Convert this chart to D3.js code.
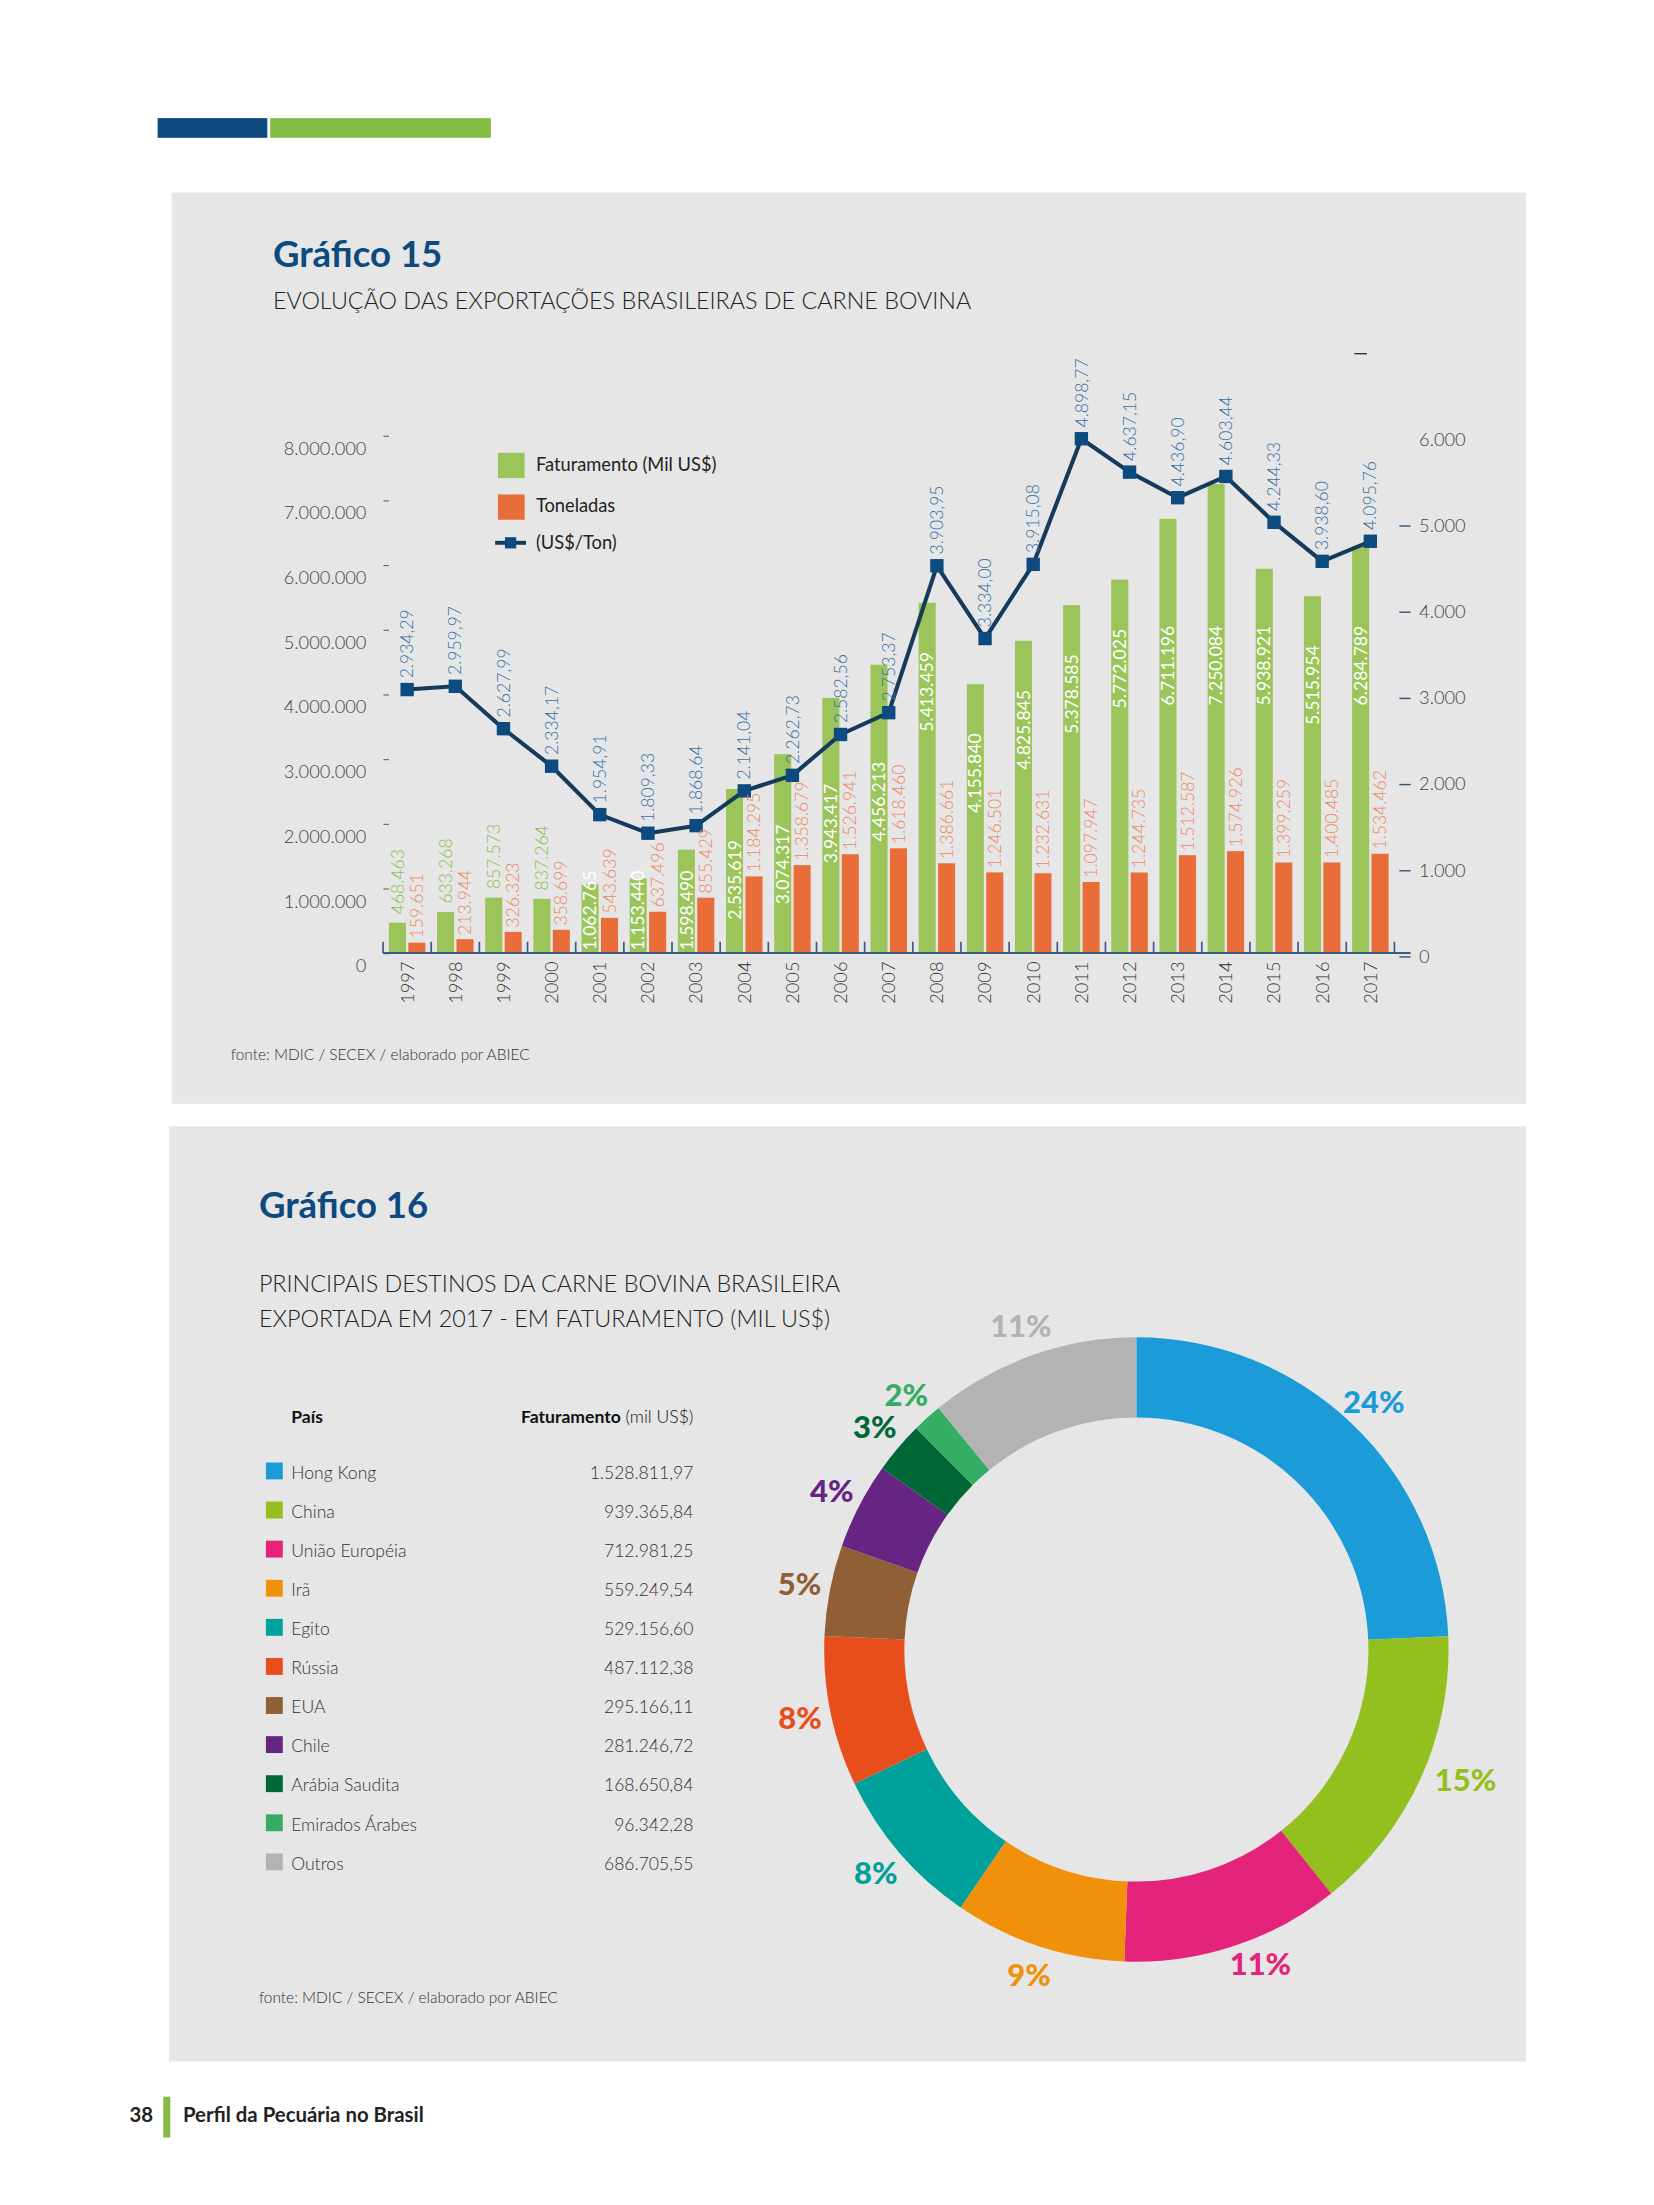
<!DOCTYPE html>
<html>
<head>
<meta charset="utf-8">
<script src="https://cdn.jsdelivr.net/npm/d3@7"></script>
<style>
  html, body { margin: 0; padding: 0; background: #fff; }
  svg { display: block; font-family: Lato, "Noto Sans", sans-serif; }
</style>
</head>
<body>
<svg id="page" width="1654" height="2205" viewBox="0 0 1176 1568"></svg>
<script>
// ---- Gráfico 15 data
const years = ['1997', '1998', '1999', '2000', '2001', '2002', '2003', '2004', '2005', '2006', '2007',
  '2008', '2009', '2010', '2011', '2012', '2013', '2014', '2015', '2016', '2017'];
const faturamento = [468463, 633268, 857573, 837264, 1062765, 1153440, 1598490, 2535619, 3074317, 3943417, 4456213,
  5413459, 4155840, 4825845, 5378585, 5772025, 6711196, 7250084, 5938921, 5515954, 6284789];
const toneladas = [159651, 213944, 326323, 358699, 543639, 637496, 855429, 1184295, 1358679, 1526941, 1618460,
  1386661, 1246501, 1232631, 1097947, 1244735, 1512587, 1574926, 1399259, 1400485, 1534462];
const precoTon = [2934.29, 2959.97, 2627.99, 2334.17, 1954.91, 1809.33, 1868.64, 2141.04, 2262.73, 2582.56, 2753.37,
  3903.95, 3334.00, 3915.08, 4898.77, 4637.15, 4436.90, 4603.44, 4244.33, 3938.60, 4095.76];
const leftTicks = [0, 1000000, 2000000, 3000000, 4000000, 5000000, 6000000, 7000000, 8000000];
const rightTicks = [0, 1000, 2000, 3000, 4000, 5000, 6000, 7000];
const legendItems = ['Faturamento (Mil US$)', 'Toneladas', '(US$/Ton)'];

// ---- Gráfico 16 data
const paises = ['Hong Kong', 'China', 'União Européia', 'Irã', 'Egito', 'Rússia', 'EUA', 'Chile',
  'Arábia Saudita', 'Emirados Árabes', 'Outros'];
const faturamentoPais = [1528811.97, 939365.84, 712981.25, 559249.54, 529156.60, 487112.38, 295166.11,
  281246.72, 168650.84, 96342.28, 686705.55];
const coresPais = ['#1b9cd8', '#93c01f', '#e4237a', '#f0900b', '#00a19a', '#e84e1c', '#915f36',
  '#662582', '#006837', '#35ad64', '#b3b3b3'];

const br = d3.formatLocale({decimal: ',', thousands: '.', grouping: [3], currency: ['R$', '']});
const fmtInt = br.format(',d');
const fmtDec = br.format(',.2f');

const BLUE = '#0c4a80';
const GREEN = '#9bc55b';
const ORANGE = '#e86d38';

const svg = d3.select('#page');

// page furniture
svg.append('rect').attr('x', 112).attr('y', 84).attr('width', 78).attr('height', 14).attr('fill', '#0b4a7e');
svg.append('rect').attr('x', 192).attr('y', 84).attr('width', 157).attr('height', 14).attr('fill', '#83bd48');
svg.append('rect').attr('x', 122).attr('y', 137).attr('width', 963).attr('height', 648).attr('fill', '#e6e6e6');
svg.append('rect').attr('x', 120).attr('y', 801).attr('width', 965).attr('height', 665).attr('fill', '#e6e6e6');

svg.append('text').attr('x', 92).attr('y', 1509).attr('font-size', 14.5).attr('font-weight', 700)
    .attr('fill', '#222').text('38');
svg.append('rect').attr('x', 116).attr('y', 1491).attr('width', 5).attr('height', 29).attr('fill', '#83bd48');
svg.append('text').attr('x', 130).attr('y', 1509).attr('font-size', 14.5).attr('font-weight', 700)
    .attr('fill', '#222').text('Perfil da Pecuária no Brasil');

// =================== Gráfico 15 ===================
svg.append('text').attr('x', 194).attr('y', 190).attr('font-size', 26).attr('font-weight', 700)
    .attr('fill', BLUE).text('Gráfico 15');
svg.append('text').attr('x', 194).attr('y', 220).attr('font-size', 16.6).attr('font-weight', 300)
    .attr('fill', '#222').text('EVOLUÇÃO DAS EXPORTAÇÕES BRASILEIRAS DE CARNE BOVINA');
svg.append('text').attr('x', 164).attr('y', 754).attr('font-size', 11).attr('font-weight', 300)
    .attr('fill', '#333').text('fonte: MDIC / SECEX / elaborado por ABIEC');

const x = d3.scaleBand().domain(years).range([272.3, 991.5]).padding(0);
const xSub = d3.scaleBand().domain(['fat', 'ton']).range([0, x.bandwidth()])
    .paddingInner(0.123).paddingOuter(0.3);
const y = d3.scaleLinear().domain([0, 8000000]).range([677.7, 309.7]);
const yRight = d3.scaleLinear().domain([0, 7000]).range([680, 251]);
// the price line in the original is not drawn against the right axis; it has its own scale
const yLine = d3.scaleLinear().domain([0, 5000]).range([756.8, 302.8]);

// left axis
const gLeft = svg.append('g').attr('transform', 'translate(276.5,0)')
    .call(d3.axisLeft(y).tickValues(leftTicks).tickSize(4).tickPadding(12).tickFormat(fmtInt));
gLeft.select('.domain').remove();
gLeft.selectAll('line').attr('stroke', '#666').attr('stroke-width', 0.8);
gLeft.selectAll('text').attr('y', 9).attr('font-size', 13).attr('font-weight', 300)
    .attr('fill', '#444').attr('font-family', 'Lato, sans-serif');

// right axis
const gRight = svg.append('g').attr('transform', 'translate(995,0)')
    .call(d3.axisRight(yRight).tickValues(rightTicks).tickSize(8).tickPadding(6)
        .tickFormat(v => v === 7000 ? '' : fmtInt(v)));
gRight.select('.domain').remove();
gRight.selectAll('line').attr('stroke', '#2f557d').attr('stroke-width', 1);
gRight.selectAll('.tick').filter(d => d === 6000).select('line').remove();
gRight.selectAll('.tick').filter(d => d === 7000).select('line').attr('x1', -32).attr('x2', -23).attr('stroke', '#333');
gRight.selectAll('text').attr('font-size', 13).attr('font-weight', 300)
    .attr('fill', '#444').attr('font-family', 'Lato, sans-serif');

// bars
const gBars = svg.append('g');
gBars.selectAll('rect.fat').data(faturamento).join('rect')
    .attr('class', 'fat')
    .attr('x', (d, i) => x(years[i]) + xSub('fat'))
    .attr('y', d => y(d))
    .attr('width', xSub.bandwidth())
    .attr('height', d => y(0) - y(d))
    .attr('fill', GREEN);
gBars.selectAll('rect.ton').data(toneladas).join('rect')
    .attr('class', 'ton')
    .attr('x', (d, i) => x(years[i]) + xSub('ton'))
    .attr('y', d => y(d))
    .attr('width', xSub.bandwidth())
    .attr('height', d => y(0) - y(d))
    .attr('fill', ORANGE);

// x axis
const gX = svg.append('g').attr('transform', `translate(0,${y(0)})`)
    .call(d3.axisBottom(x).tickSize(0));
gX.select('.domain').remove();
gX.selectAll('text')
    .attr('transform', 'rotate(-90)')
    .attr('text-anchor', 'end')
    .attr('x', -6).attr('y', 0).attr('dy', '0.35em')
    .attr('font-size', 13).attr('font-weight', 300).attr('fill', '#333')
    .attr('font-family', 'Lato, sans-serif');
svg.append('line')
    .attr('x1', x.range()[0]).attr('x2', 1003)
    .attr('y1', y(0)).attr('y2', y(0))
    .attr('stroke', '#3d5a80').attr('stroke-width', 1.3);
svg.append('g').selectAll('line').data(years.map(d => x(d)).concat([x.range()[1]])).join('line')
    .attr('x1', d => d).attr('x2', d => d)
    .attr('y1', y(0)).attr('y2', y(0) - 8)
    .attr('stroke', '#3d5a80').attr('stroke-width', 1.2);

// price line
const cx = (d, i) => x(years[i]) + x.bandwidth() / 2;
const line = d3.line().x(cx).y(d => yLine(d));
svg.append('path').attr('d', line(precoTon))
    .attr('fill', 'none').attr('stroke', '#163a5c').attr('stroke-width', 2.9).attr('stroke-linejoin', 'round');
svg.append('g').selectAll('rect').data(precoTon).join('rect')
    .attr('x', (d, i) => cx(d, i) - 4.75).attr('y', d => yLine(d) - 4.75)
    .attr('width', 9.5).attr('height', 9.5).attr('fill', BLUE);

// value labels
const vlabel = (g, px, py, anchor, color, text, weight = 300) => {
  g.append('text')
      .attr('transform', `translate(${px},${py}) rotate(-90)`)
      .attr('text-anchor', anchor)
      .attr('dy', '0.35em')
      .attr('font-size', 12.5).attr('font-weight', weight)
      .attr('fill', color)
      .text(text);
};
const gLabels = svg.append('g');
faturamento.forEach((v, i) => {
  const px = x(years[i]) + xSub('fat') + xSub.bandwidth() / 2;
  if (v < 1000000) {
    vlabel(gLabels, px, y(v) - 6, 'start', '#8cc152', fmtInt(v));
  } else if (v < 2000000) {
    vlabel(gLabels, px, y(0) - 2, 'start', '#ffffff', fmtInt(v), 400);
  } else {
    const top = Math.max(Math.max(y(v), yLine(precoTon[i])) + 35, 445);
    vlabel(gLabels, px, top, 'end', '#ffffff', fmtInt(v), 400);
  }
});
toneladas.forEach((v, i) => {
  const px = x(years[i]) + xSub('ton') + xSub.bandwidth() / 2;
  vlabel(gLabels, px, y(v) - 3, 'start', '#ec8a5e', fmtInt(v));
});
precoTon.forEach((v, i) => {
  vlabel(gLabels, cx(v, i), yLine(v) - 8, 'start', '#3670a4', fmtDec(v));
});

// legend
const gLegend = svg.append('g').attr('transform', 'translate(354,322)');
gLegend.append('rect').attr('x', 0).attr('y', 0).attr('width', 19).attr('height', 18).attr('fill', GREEN);
gLegend.append('rect').attr('x', 0).attr('y', 29.6).attr('width', 19).attr('height', 18).attr('fill', ORANGE);
gLegend.append('line').attr('x1', -2).attr('x2', 20).attr('y1', 64).attr('y2', 64)
    .attr('stroke', '#163a5c').attr('stroke-width', 2.8);
gLegend.append('rect').attr('x', 5).attr('y', 60).attr('width', 8).attr('height', 8).attr('fill', BLUE);
gLegend.selectAll('text').data(legendItems).join('text')
    .attr('x', 27).attr('y', (d, i) => [12.7, 42, 68.5][i])
    .attr('font-size', 13).attr('fill', '#222').text(d => d);

// =================== Gráfico 16 ===================
svg.append('text').attr('x', 184).attr('y', 866).attr('font-size', 26).attr('font-weight', 700)
    .attr('fill', BLUE).text('Gráfico 16');
svg.append('text').attr('x', 184).attr('y', 919).attr('font-size', 16.6).attr('font-weight', 300)
    .attr('fill', '#222').text('PRINCIPAIS DESTINOS DA CARNE BOVINA BRASILEIRA');
svg.append('text').attr('x', 184).attr('y', 943.5).attr('font-size', 16.6).attr('font-weight', 300)
    .attr('fill', '#222').text('EXPORTADA EM 2017 - EM FATURAMENTO (MIL US$)');
svg.append('text').attr('x', 184).attr('y', 1424).attr('font-size', 11).attr('font-weight', 300)
    .attr('fill', '#333').text('fonte: MDIC / SECEX / elaborado por ABIEC');

// table
svg.append('text').attr('x', 207).attr('y', 1012).attr('font-size', 12.5).attr('font-weight', 700)
    .attr('fill', '#111').text('País');
const head = svg.append('text').attr('x', 493).attr('y', 1012).attr('text-anchor', 'end')
    .attr('font-size', 12.5).attr('fill', '#111');
head.append('tspan').attr('font-weight', 700).text('Faturamento');
head.append('tspan').attr('font-weight', 300).text(' (mil US$)');

const rowY = d3.scalePoint().domain(paises).range([1051.5, 1051.5 + 10 * 27.8]);
const gRows = svg.append('g');
gRows.selectAll('rect').data(paises).join('rect')
    .attr('x', 189).attr('y', d => rowY(d) - 11.5).attr('width', 12).attr('height', 12)
    .attr('fill', (d, i) => coresPais[i]);
gRows.selectAll('text.nome').data(paises).join('text')
    .attr('class', 'nome')
    .attr('x', 207).attr('y', d => rowY(d))
    .attr('font-size', 12.5).attr('font-weight', 300).attr('fill', '#333').text(d => d);
gRows.selectAll('text.valor').data(faturamentoPais).join('text')
    .attr('class', 'valor')
    .attr('x', 493).attr('y', (d, i) => rowY(paises[i])).attr('text-anchor', 'end')
    .attr('font-size', 12.5).attr('font-weight', 300).attr('fill', '#333').text(d => fmtDec(d));

// donut
const total = d3.sum(faturamentoPais);
const pie = d3.pie().sort(null).value(d => d);
const arcs = pie(faturamentoPais);
const arc = d3.arc().innerRadius(165).outerRadius(222);
const labelArc = d3.arc().innerRadius(244).outerRadius(244);
const gPie = svg.append('g').attr('transform', 'translate(808,1173)');
gPie.selectAll('path').data(arcs).join('path')
    .attr('d', arc).attr('fill', (d, i) => coresPais[i]);
gPie.selectAll('text').data(arcs).join('text')
    .attr('transform', d => {
      const [lx, ly] = labelArc.centroid(d);
      // labels on the right half sit a little further out in the original
      return lx > 0 && ly > 0 ? `translate(${lx + 12},${ly - 8})` : `translate(${lx},${ly})`;
    })
    .attr('text-anchor', 'middle').attr('dy', '0.35em')
    .attr('font-size', 22).attr('font-weight', 900)
    .attr('fill', (d, i) => coresPais[i])
    .text(d => Math.round(d.data / total * 100) + '%');
</script>
</body>
</html>
